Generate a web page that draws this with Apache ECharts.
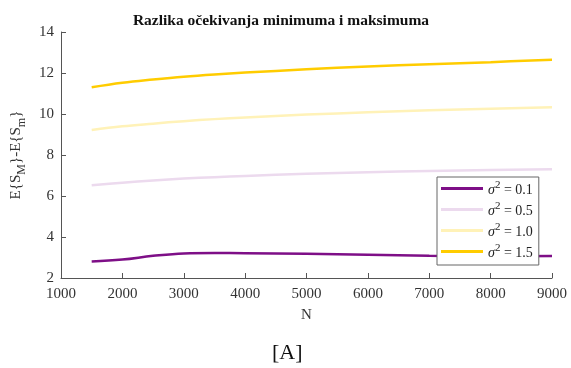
<!DOCTYPE html>
<html><head><meta charset="utf-8">
<script src="https://cdn.jsdelivr.net/npm/echarts@6/dist/echarts.min.js"></script>
<style>html,body{margin:0;padding:0;background:#fff}#c{width:571px;height:368px}</style>
</head><body><div id="c"></div>
<script>
const N = [1500, 2000, 2500, 3000, 3500, 4000, 5000, 6000, 7000, 8000, 9000];
const s01 = [2.80, 2.90, 3.08, 3.20, 3.22, 3.21, 3.18, 3.14, 3.08, 3.06, 3.07];
const s05 = [6.52, 6.65, 6.76, 6.85, 6.92, 6.98, 7.08, 7.16, 7.22, 7.27, 7.30];
const s10 = [9.22, 9.40, 9.53, 9.65, 9.75, 9.83, 9.97, 10.08, 10.18, 10.26, 10.33];
const s15 = [11.30, 11.52, 11.68, 11.82, 11.93, 12.02, 12.18, 12.32, 12.43, 12.53, 12.65];
const names = ['σ2 = 0.1', 'σ2 = 0.5', 'σ2 = 1.0', 'σ2 = 1.5'];
const colors = ['#7e0f87', '#ecdaee', '#fff2b8', '#ffcc00'];
const serif = '"Liberation Serif", "DejaVu Serif", serif';
const chart = echarts.init(document.getElementById('c'));
function mk(i, arr) {
  return {
    name: names[i], type: 'line', data: N.map((n, k) => [n, arr[k]]),
    smooth: 0.4, showSymbol: false, symbol: 'none',
    lineStyle: { color: colors[i], width: 2.5 }, itemStyle: { color: colors[i] }
  };
}
chart.setOption({
  animation: false,
  backgroundColor: '#fff',
  title: {
    text: 'Razlika očekivanja minimuma i maksimuma', left: 276, top: 8, textAlign: 'center',
    textStyle: { fontFamily: serif, fontSize: 15.5, fontWeight: 'bold', color: '#111' }
  },
  grid: { left: 61, right: 19, top: 32, bottom: 90, outerBoundsMode: 'none', containLabel: false },
  xAxis: {
    type: 'value', min: 1000, max: 9000, interval: 1000,
    name: 'N', nameLocation: 'middle', nameGap: 30,
    nameTextStyle: { fontFamily: serif, fontSize: 15, color: '#333' },
    axisLine: { lineStyle: { color: '#555', width: 1 } },
    axisTick: { inside: true, length: 5, lineStyle: { color: '#555' } },
    axisLabel: { fontFamily: serif, fontSize: 15, color: '#333', margin: 9, formatter: v => String(v) },
    splitLine: { show: false }
  },
  yAxis: {
    type: 'value', min: 2, max: 14, interval: 2,
    name: '{n|E{S}{s|M}}-E{S{s|m}}', nameLocation: 'middle', nameGap: 27, nameRotate: 90,
    nameTextStyle: {
      fontFamily: serif, fontSize: 15, color: '#333', lineHeight: 24, verticalAlign: 'middle',
      rich: {
        n: { fontFamily: serif, fontSize: 15, color: '#333', lineHeight: 24, verticalAlign: 'middle' },
        s: { fontFamily: serif, fontSize: 12, color: '#333', lineHeight: 24, verticalAlign: 'bottom' }
      }
    },
    axisLine: { show: true, lineStyle: { color: '#555', width: 1 } },
    axisTick: { show: true, inside: true, length: 5, lineStyle: { color: '#555' } },
    axisLabel: { fontFamily: serif, fontSize: 15, color: '#333', margin: 7 },
    splitLine: { show: false }
  },
  legend: {
    orient: 'vertical', left: 437, top: 177,
    backgroundColor: '#fff', borderColor: '#666', borderWidth: 1,
    padding: [3, 6, 5, 4], itemGap: 4, itemWidth: 42, itemHeight: 3, icon: 'rect',
    data: names,
    formatter: function (nm) { const v = nm.split('= ')[1]; return '{i|σ}{p|2}{t| = ' + v + '}'; },
    textStyle: {
      fontFamily: serif, fontSize: 14, color: '#222',
      rich: {
        i: { fontFamily: serif, fontStyle: 'italic', fontSize: 14, color: '#222', lineHeight: 17, verticalAlign: 'bottom' },
        p: { fontFamily: serif, fontSize: 11, color: '#222', lineHeight: 17, verticalAlign: 'top' },
        t: { fontFamily: serif, fontSize: 14, color: '#222', lineHeight: 17, verticalAlign: 'bottom' }
      }
    }
  },
  graphic: [{
    type: 'text', left: 272, top: 342,
    style: { text: '[A]', fontFamily: serif, fontSize: 22, fill: '#111' }
  }],
  series: [mk(0, s01), mk(1, s05), mk(2, s10), mk(3, s15)]
});
</script>
</body></html>
